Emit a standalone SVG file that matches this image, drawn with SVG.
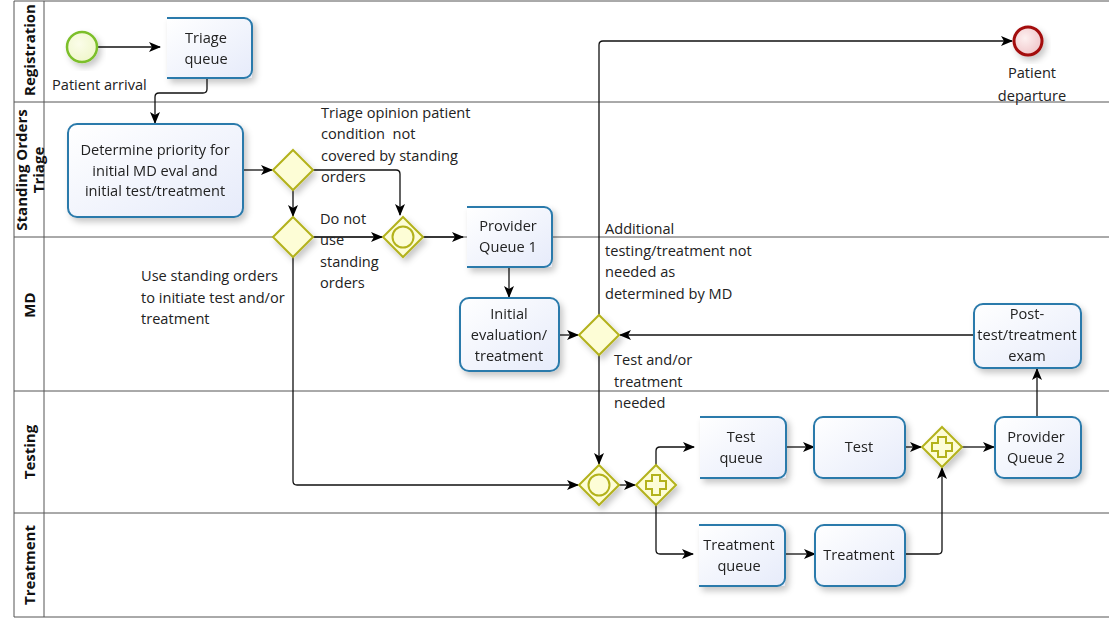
<svg xmlns="http://www.w3.org/2000/svg" width="1109" height="619" viewBox="0 0 1109 619">
  <defs>
    <linearGradient id="taskFill" x1="0" y1="0" x2="1" y2="1">
      <stop offset="0" stop-color="#ffffff"/>
      <stop offset="1" stop-color="#e6ebfa"/>
    </linearGradient>
    <radialGradient id="startFill" cx="0.4" cy="0.4" r="0.7">
      <stop offset="0" stop-color="#fbfde9"/>
      <stop offset="1" stop-color="#eef6c8"/>
    </radialGradient>
    <radialGradient id="endFill" cx="0.4" cy="0.4" r="0.7">
      <stop offset="0" stop-color="#fdf0f0"/>
      <stop offset="1" stop-color="#efc2c6"/>
    </radialGradient>
    <filter id="shadow" x="-20%" y="-20%" width="150%" height="150%">
      <feDropShadow dx="3" dy="4" stdDeviation="3" flood-color="#000" flood-opacity="0.22"/>
    </filter>
    <marker id="arrow" viewBox="0 0 12 10" refX="11" refY="5" markerWidth="12" markerHeight="10" markerUnits="userSpaceOnUse" orient="auto">
      <path d="M0,0 L12,5 L0,10 L3,5 z" fill="#000"/>
    </marker>
  </defs>
  <style>
    .lane { stroke: #555; stroke-width: 1; fill: none; }
    .hdr { font-family: "Open Sans", "DejaVu Sans", sans-serif; font-size: 15px; font-weight: bold; fill: #111; text-anchor: middle; }
    .txt { font-family: "Open Sans", "Noto Sans", sans-serif; font-size: 14.6px; fill: #222; }
    .ctr { text-anchor: middle; }
    .task { fill: url(#taskFill); stroke: #2a7aab; stroke-width: 2; }
    .qfill { fill: url(#taskFill); stroke: none; }
    .qedge { fill: none; stroke: #2a7aab; stroke-width: 2; }
    .flow { fill: none; stroke: #111; stroke-width: 1.3; marker-end: url(#arrow); }
    .gw { fill: #fdfdd6; stroke: #b3b21c; stroke-width: 2; }
    .gwin { fill: none; stroke: #b3b21c; stroke-width: 2; }
  </style>

  <rect width="1109" height="619" fill="#ffffff"/>

  <!-- Pool and lanes -->
  <g id="lanes">
    <line class="lane" x1="14" y1="1" x2="1109" y2="1"/>
    <line class="lane" x1="14" y1="617" x2="1109" y2="617"/>
    <line class="lane" x1="14" y1="1" x2="14" y2="617"/>
    <line class="lane" x1="44" y1="1" x2="44" y2="617"/>
    <line class="lane" x1="14" y1="102" x2="1109" y2="102"/>
    <line class="lane" x1="14" y1="237" x2="1109" y2="237"/>
    <line class="lane" x1="14" y1="391" x2="1109" y2="391"/>
    <line class="lane" x1="14" y1="513" x2="1109" y2="513"/>
    <text class="hdr" transform="translate(35,50) rotate(-90)">Registration</text>
    <text class="hdr" transform="translate(27,170) rotate(-90)">Standing Orders</text>
    <text class="hdr" transform="translate(44,170) rotate(-90)">Triage</text>
    <text class="hdr" transform="translate(35,305) rotate(-90)">MD</text>
    <text class="hdr" transform="translate(35,452) rotate(-90)">Testing</text>
    <text class="hdr" transform="translate(35,565) rotate(-90)">Treatment</text>
  </g>

  <!-- Sequence flows -->
  <g id="connectors">
    <path class="flow" d="M97,47 H160"/>
    <path class="flow" d="M207,78 V89 Q207,93 203,93 H159 Q155,93 155,97 V123"/>
    <path class="flow" d="M243,170 H272"/>
    <path class="flow" d="M293,190 V216"/>
    <path class="flow" d="M313,170 H396 Q400,170 400,174 V215"/>
    <path class="flow" d="M313,237 H382"/>
    <path class="flow" d="M423,237 H463"/>
    <path class="flow" d="M509,267 V297"/>
    <path class="flow" d="M559,335 H578"/>
    <path class="flow" d="M599,315 V45 Q599,41 603,41 H1012"/>
    <path class="flow" d="M599,355 V464"/>
    <path class="flow" d="M974,335 H620"/>
    <path class="flow" d="M1037,417 V369"/>
    <path class="flow" d="M293,257 V481 Q293,485 297,485 H578"/>
    <path class="flow" d="M619,485 H635"/>
    <path class="flow" d="M656,465 V451 Q656,447 660,447 H694"/>
    <path class="flow" d="M656,505 V550 Q656,554 660,554 H693"/>
    <path class="flow" d="M786,447 H814"/>
    <path class="flow" d="M905,447 H921"/>
    <path class="flow" d="M962,447 H994"/>
    <path class="flow" d="M785,554 H815"/>
    <path class="flow" d="M905,554 H938 Q942,554 942,550 V468"/>
  </g>

  <!-- Events -->
  <g id="start-patient-arrival">
    <circle cx="82" cy="47" r="15" fill="url(#startFill)" stroke="#7cbf2a" stroke-width="2.5" filter="url(#shadow)"/>
    <text class="txt" x="52" y="90">Patient arrival</text>
  </g>
  <g id="end-patient-departure">
    <circle cx="1028" cy="41" r="14" fill="url(#endFill)" stroke="#a30f0f" stroke-width="3" filter="url(#shadow)"/>
    <text class="txt ctr" x="1032" y="78">Patient</text>
    <text class="txt ctr" x="1032" y="101">departure</text>
  </g>

  <!-- Tasks -->
  <g id="triage-queue" filter="url(#shadow)">
    <rect class="qfill" x="167" y="18" width="85" height="60" rx="2"/>
    <path class="qedge" d="M167,18 H244 A8,8 0 0 1 252,26 V70 A8,8 0 0 1 244,78 H167"/>
    <text class="txt ctr" x="206" y="43">Triage</text>
    <text class="txt ctr" x="206" y="64">queue</text>
  </g>
  <g id="determine-priority" filter="url(#shadow)">
    <rect class="task" x="68" y="124" width="175" height="93" rx="9"/>
    <text class="txt ctr" x="155" y="155">Determine priority for</text>
    <text class="txt ctr" x="155" y="176">initial MD eval and</text>
    <text class="txt ctr" x="155" y="196">initial test/treatment</text>
  </g>
  <g id="provider-queue-1" filter="url(#shadow)">
    <rect class="qfill" x="467" y="207" width="85" height="60" rx="2"/>
    <path class="qedge" d="M467,207 H544 A8,8 0 0 1 552,215 V259 A8,8 0 0 1 544,267 H467"/>
    <text class="txt ctr" x="508" y="231">Provider</text>
    <text class="txt ctr" x="508" y="252">Queue 1</text>
  </g>
  <g id="initial-evaluation" filter="url(#shadow)">
    <rect class="task" x="460" y="298" width="99" height="73" rx="9"/>
    <text class="txt ctr" x="509" y="319">Initial</text>
    <text class="txt ctr" x="509" y="340">evaluation/</text>
    <text class="txt ctr" x="509" y="361">treatment</text>
  </g>
  <g id="post-test-exam" filter="url(#shadow)">
    <rect class="task" x="974" y="304" width="107" height="64" rx="9"/>
    <text class="txt ctr" x="1027" y="319">Post-</text>
    <text class="txt ctr" x="1027" y="340">test/treatment</text>
    <text class="txt ctr" x="1027" y="361">exam</text>
  </g>
  <g id="provider-queue-2" filter="url(#shadow)">
    <rect class="task" x="995" y="417" width="86" height="61" rx="9"/>
    <text class="txt ctr" x="1036" y="442">Provider</text>
    <text class="txt ctr" x="1036" y="463">Queue 2</text>
  </g>
  <g id="test-queue" filter="url(#shadow)">
    <rect class="qfill" x="700" y="417" width="86" height="61" rx="2"/>
    <path class="qedge" d="M700,417 H778 A8,8 0 0 1 786,425 V470 A8,8 0 0 1 778,478 H700"/>
    <text class="txt ctr" x="741" y="442">Test</text>
    <text class="txt ctr" x="741" y="463">queue</text>
  </g>
  <g id="test" filter="url(#shadow)">
    <rect class="task" x="814" y="417" width="91" height="61" rx="9"/>
    <text class="txt ctr" x="859" y="452">Test</text>
  </g>
  <g id="treatment-queue" filter="url(#shadow)">
    <rect class="qfill" x="699" y="525" width="86" height="61" rx="2"/>
    <path class="qedge" d="M699,525 H777 A8,8 0 0 1 785,533 V578 A8,8 0 0 1 777,586 H699"/>
    <text class="txt ctr" x="739" y="550">Treatment</text>
    <text class="txt ctr" x="739" y="571">queue</text>
  </g>
  <g id="treatment" filter="url(#shadow)">
    <rect class="task" x="815" y="525" width="90" height="61" rx="9"/>
    <text class="txt ctr" x="859" y="560">Treatment</text>
  </g>

  <!-- Gateways -->
  <g id="gw-standing-orders-check" filter="url(#shadow)">
    <polygon class="gw" points="293,150 313,170 293,190 273,170"/>
  </g>
  <g id="gw-use-standing-orders" filter="url(#shadow)">
    <polygon class="gw" points="293,217 313,237 293,257 273,237"/>
  </g>
  <g id="gw-merge-provider" filter="url(#shadow)">
    <polygon class="gw" points="403,217 423,237 403,257 383,237"/>
    <circle class="gwin" cx="403" cy="237" r="10.5"/>
  </g>
  <g id="gw-md-decision" filter="url(#shadow)">
    <polygon class="gw" points="599,315 619,335 599,355 579,335"/>
  </g>
  <g id="gw-merge-testing" filter="url(#shadow)">
    <polygon class="gw" points="599,465 619,485 599,505 579,485"/>
    <circle class="gwin" cx="599" cy="485" r="10.5"/>
  </g>
  <g id="gw-split-parallel" filter="url(#shadow)">
    <polygon class="gw" points="656,465 676,485 656,505 636,485"/>
    <path class="gwin" d="M652,475 H660 V481 H666 V489 H660 V495 H652 V489 H646 V481 H652 Z"/>
  </g>
  <g id="gw-join-parallel" filter="url(#shadow)">
    <polygon class="gw" points="942,427 962,447 942,467 922,447"/>
    <path class="gwin" d="M938,437 H946 V443 H952 V451 H946 V457 H938 V451 H932 V443 H938 Z"/>
  </g>

  <!-- Flow labels -->
  <g id="labels">
    <text class="txt" x="321" y="118">Triage opinion patient</text>
    <text class="txt" x="321" y="139">condition&#160; not</text>
    <text class="txt" x="321" y="161">covered by standing</text>
    <text class="txt" x="321" y="182">orders</text>
    <text class="txt" x="320" y="224">Do not</text>
    <text class="txt" x="320" y="245">use</text>
    <text class="txt" x="320" y="267">standing</text>
    <text class="txt" x="320" y="288">orders</text>
    <text class="txt" x="141" y="281">Use standing orders</text>
    <text class="txt" x="141" y="303">to initiate test and/or</text>
    <text class="txt" x="141" y="324">treatment</text>
    <text class="txt" x="605" y="234">Additional</text>
    <text class="txt" x="605" y="256">testing/treatment not</text>
    <text class="txt" x="605" y="277">needed as</text>
    <text class="txt" x="605" y="299">determined by MD</text>
    <text class="txt" x="614" y="365">Test and/or</text>
    <text class="txt" x="614" y="387">treatment</text>
    <text class="txt" x="614" y="408">needed</text>
  </g>
</svg>
